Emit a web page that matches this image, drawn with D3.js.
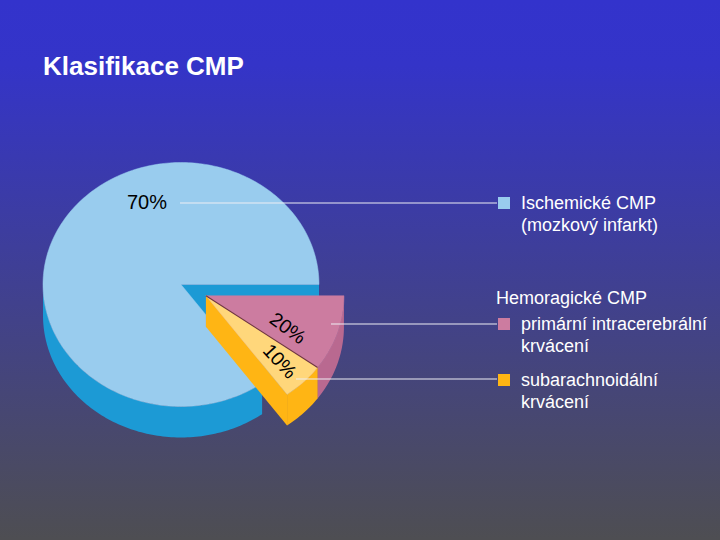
<!DOCTYPE html>
<html>
<head>
<meta charset="utf-8">
<script src="https://cdn.jsdelivr.net/npm/d3@7"></script>
<style>
  body { margin: 0; }
  svg { display: block; font-family: 'Liberation Sans', Arial, sans-serif; }
</style>
</head>
<body>
<svg></svg>
<script>
// data
let categories = ['Ischemické CMP', 'primární intracerebrální krvácení', 'subarachnoidální krvácení']
let percentLabels = ['70%', '20%', '10%']
// slice sizes as they are drawn in the picture (the printed labels say 70/20/10)
let sliceShare = [85, 10, 5]
let exploded = [false, true, true]
let legendLines = [
    ['Ischemické CMP', '(mozkový infarkt)'],
    ['primární intracerebrální', 'krvácení'],
    ['subarachnoidální', 'krvácení']
]
let groupTitle = 'Hemoragické CMP'
let title = 'Klasifikace CMP'

let topColors = ['#99ccee', '#cc7ca0', '#ffd77b']
let sideColors = ['#1c9ad5', '#b96990', '#ffb514']
let legendColors = ['#99ccee', '#cc7ca0', '#ffb514']

let width = 720
let height = 540

let cx = 181
let cy = 284.5
let radius = 138
let tilt = 0.884
let depth = 31
let explodeDist = 28

let svg = d3.select('svg')

let drawCanvas = () => {
    svg.attr('width', width)
    svg.attr('height', height)

    let grad = svg.append('defs')
        .append('linearGradient')
        .attr('id', 'bg')
        .attr('x1', 0).attr('y1', 0)
        .attr('x2', 0).attr('y2', 1)
    grad.append('stop').attr('offset', '0%').attr('stop-color', '#3333cc')
    grad.append('stop').attr('offset', '12%').attr('stop-color', '#3434c8')
    grad.append('stop').attr('offset', '100%').attr('stop-color', '#4e4e52')

    svg.append('rect')
        .attr('width', width)
        .attr('height', height)
        .attr('fill', 'url(#bg)')
}

// hemorrhagic slices start at 3 o'clock, ischemic takes the rest
let hemShare = d3.sum(sliceShare.filter((v, i) => exploded[i]))
let startA = Math.PI / 2 + 2 * Math.PI * hemShare / d3.sum(sliceShare)

let pie = d3.pie()
    .sort(null)
    .value((d) => d)
    .startAngle(startA)
    .endAngle(startA + 2 * Math.PI)

let arcs = pie(sliceShare)

// screen angle: clockwise from 3 o'clock
let scr = (a) => a - Math.PI / 2

let explodedArcs = arcs.filter((d, i) => exploded[i])
let groupMid = (scr(d3.min(explodedArcs, (d) => d.startAngle)) + scr(d3.max(explodedArcs, (d) => d.endAngle))) / 2
let offX = explodeDist * Math.cos(groupMid)
let offY = explodeDist * Math.sin(groupMid) * tilt

let proj = (t, r, dz, off) => [
    cx + off[0] + r * Math.cos(t),
    cy + off[1] + r * Math.sin(t) * tilt + dz
]

let arcPoints = (t0, t1, dz, off) => {
    let n = Math.max(2, Math.ceil(Math.abs(t1 - t0) / 0.02))
    return d3.range(n + 1).map((j) => proj(t0 + (t1 - t0) * j / n, radius, dz, off))
}

let line = d3.line()

let drawPie = () => {
    let g = svg.append('g').attr('id', 'pie')

    arcs.forEach((d, i) => {
        let off = exploded[i] ? [offX, offY] : [0, 0]
        let a = scr(d.startAngle)
        let b = scr(d.endAngle)
        let c0 = proj(0, 0, 0, off)
        let c1 = proj(0, 0, depth, off)

        // radial side faces
        if (Math.cos(a) < 0) {
            g.append('path')
                .attr('d', line([c0, proj(a, radius, 0, off), proj(a, radius, depth, off), c1]) + 'Z')
                .attr('fill', sideColors[i])
        }
        if (Math.cos(b) > 0) {
            g.append('path')
                .attr('d', line([c0, proj(b, radius, 0, off), proj(b, radius, depth, off), c1]) + 'Z')
                .attr('fill', sideColors[i])
        }

        // outer wall where it faces the viewer
        ;[0, 2 * Math.PI].forEach((base) => {
            let t0 = Math.max(a, base)
            let t1 = Math.min(b, base + Math.PI)
            if (t1 > t0) {
                let pts = arcPoints(t0, t1, 0, off).concat(arcPoints(t1, t0, depth, off))
                g.append('path')
                    .attr('d', line(pts) + 'Z')
                    .attr('fill', sideColors[i])
            }
        })

        // top face
        let topPts = [c0].concat(arcPoints(a, b, 0, off))
        g.append('path')
            .attr('d', line(topPts) + 'Z')
            .attr('fill', topColors[i])
            .attr('stroke', topColors[i])
            .attr('stroke-width', 0.5)
    })

    // thin dark seam between the two hemorrhagic slices
    let seamA = scr(arcs[1].endAngle)
    g.append('path')
        .attr('d', line([proj(0, 0, 0, [offX, offY]), proj(seamA, radius, 0, [offX, offY])]))
        .attr('stroke', '#6e3345')
        .attr('stroke-width', 1.2)
}

let drawLabels = () => {
    // leader lines
    let leaders = [[180, 203], [331, 324], [296, 379]]
    let legendY = [203, 324, 380]
    leaders.forEach((p, i) => {
        svg.append('line')
            .attr('x1', p[0]).attr('y1', p[1])
            .attr('x2', 497).attr('y2', p[1])
            .attr('stroke', '#eeeef4')
            .attr('stroke-width', 1)
    })

    // percentage labels
    let labelPos = [[147, 209, 0], [288, 328, 36], [280, 361, 47]]
    percentLabels.forEach((t, i) => {
        let p = labelPos[i]
        svg.append('text')
            .attr('transform', 'translate(' + p[0] + ',' + p[1] + ') rotate(' + p[2] + ')')
            .attr('text-anchor', 'middle')
            .attr('dy', i == 0 ? 0 : '0.35em')
            .style('font-size', i == 0 ? '20px' : '19.5px')
            .attr('fill', '#000')
            .text(t)
    })

    // legend
    legendY.forEach((y, i) => {
        svg.append('rect')
            .attr('x', 498)
            .attr('y', y - 6)
            .attr('width', 12)
            .attr('height', 12)
            .attr('fill', legendColors[i])
        legendLines[i].forEach((s, j) => {
            svg.append('text')
                .attr('x', 521)
                .attr('y', y + 6 + j * 22)
                .style('font-size', '18px')
                .attr('fill', '#ffffff')
                .text(s)
        })
    })

    svg.append('text')
        .attr('x', 496)
        .attr('y', 304)
        .style('font-size', '18px')
        .attr('fill', '#ffffff')
        .text(groupTitle)
}

let genTitle = () => {
    svg.append('text')
        .attr('x', 43)
        .attr('y', 75)
        .style('font-size', '26px')
        .style('font-weight', 700)
        .attr('fill', '#ffffff')
        .text(title)
}

drawCanvas()
drawPie()
drawLabels()
genTitle()
</script>
</body>
</html>
